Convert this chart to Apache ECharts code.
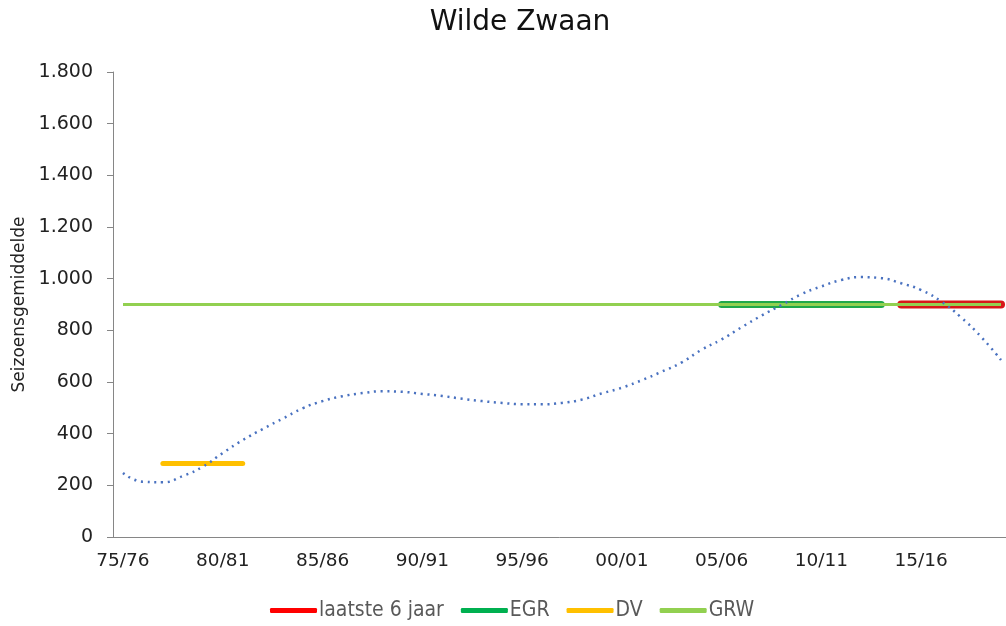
<!DOCTYPE html>
<html>
<head>
<meta charset="utf-8">
<script src="https://cdn.jsdelivr.net/npm/echarts@6/dist/echarts.min.js"></script>
<style>
  html, body { margin: 0; padding: 0; background: #fff; }
  #main { width: 1006px; height: 626px; }
</style>
</head>
<body>
<div id="main"></div>
<script>
// seizoenen 75/76 t/m 19/20
var seasons = ['75/76','76/77','77/78','78/79','79/80','80/81','81/82','82/83','83/84','84/85',
  '85/86','86/87','87/88','88/89','89/90','90/91','91/92','92/93','93/94','94/95',
  '95/96','96/97','97/98','98/99','99/00','00/01','01/02','02/03','03/04','04/05',
  '05/06','06/07','07/08','08/09','09/10','10/11','11/12','12/13','13/14','14/15',
  '15/16','16/17','17/18','18/19','19/20'];

// trendlijn (gestippeld)
var trend = [248, 214, 212, 236, 272, 325, 375, 418, 458, 498,
  526, 545, 557, 564, 562, 554, 546, 535, 526, 519,
  514, 514, 519, 532, 556, 578, 607, 640, 676, 725,
  765, 812, 857, 898, 940, 970, 995, 1006, 1002, 982,
  956, 912, 850, 775, 685];

var grwValue = 900;
var egrRange = ['05/06', '13/14'], egrValue = 900;
var dvRange = ['77/78', '81/82'], dvValue = 285;
var lastRange = ['14/15', '19/20'], lastValue = 900;

var yTicks = [0, 200, 400, 600, 800, 1000, 1200, 1400, 1600, 1800];

function seg(range, v) { return [[range[0], v], [range[1], v]]; }

var font = 'DejaVu Sans';
var chart = echarts.init(document.getElementById('main'));
chart.setOption({
  animation: false,
  title: {
    text: 'Wilde Zwaan',
    left: 515, top: 4, textAlign: 'center',
    textStyle: { fontFamily: font, fontSize: 28, fontWeight: 'normal', color: '#111' }
  },
  legend: {
    left: 265, top: 595,
    itemWidth: 47, itemHeight: 5, itemGap: 17,
    icon: 'roundRect',
    data: ['laatste 6 jaar', 'EGR', 'DV', 'GRW'],
    textStyle: { fontFamily: 'DejaVu Sans Condensed, ' + font, fontSize: 21, color: '#595959', padding: [0, 0, 0, -3] }
  },
  grid: { left: 113, right: -5, top: 72, bottom: 89, containLabel: false, outerBoundsMode: 'none' },
  xAxis: {
    type: 'category',
    data: seasons,
    boundaryGap: true,
    axisLine: { lineStyle: { color: '#868686', width: 1 } },
    axisTick: { interval: 0, length: 6, lineStyle: { color: '#868686' } },
    axisLabel: { interval: 4, margin: 15, fontFamily: font, fontSize: 18.5, color: '#222' }
  },
  yAxis: {
    type: 'value',
    min: yTicks[0], max: yTicks[yTicks.length - 1], interval: 200,
    name: 'Seizoensgemiddelde',
    nameLocation: 'middle', nameGap: 84,
    nameTextStyle: { fontFamily: font, fontSize: 17, color: '#222' },
    axisLine: { show: true, lineStyle: { color: '#868686', width: 1 } },
    axisTick: { show: true, length: 6, lineStyle: { color: '#868686' } },
    splitLine: { show: false },
    axisLabel: {
      margin: 20, fontFamily: font, fontSize: 19, color: '#222',
      formatter: function (v) { return v.toString().replace(/\B(?=(\d{3})+(?!\d))/g, '.'); }
    }
  },
  series: [
    {
      name: 'laatste 6 jaar', type: 'line', data: seg(lastRange, lastValue),
      symbol: 'none', color: '#FF0000', z: 2,
      lineStyle: { width: 8, color: '#D81818', cap: 'round' }
    },
    {
      name: 'EGR', type: 'line', data: seg(egrRange, egrValue),
      symbol: 'none', color: '#00B050', z: 3,
      lineStyle: { width: 7, color: '#1FA84A', cap: 'round' }
    },
    {
      name: 'DV', type: 'line', data: seg(dvRange, dvValue),
      symbol: 'none', color: '#FFC000', z: 3,
      lineStyle: { width: 5, color: '#FFC000', cap: 'round' }
    },
    {
      name: 'GRW', type: 'line', data: seasons.map(function (s) { return [s, grwValue]; }),
      symbol: 'none', color: '#92D050', z: 4,
      lineStyle: { width: 3, color: '#92D050' }
    },
    {
      name: 'trend', type: 'line', data: trend,
      symbol: 'none', smooth: 0.5, z: 5,
      lineStyle: { width: 2.5, color: '#4A72C0', type: [2, 4.7], cap: 'butt' }
    }
  ]
});
</script>
</body>
</html>
